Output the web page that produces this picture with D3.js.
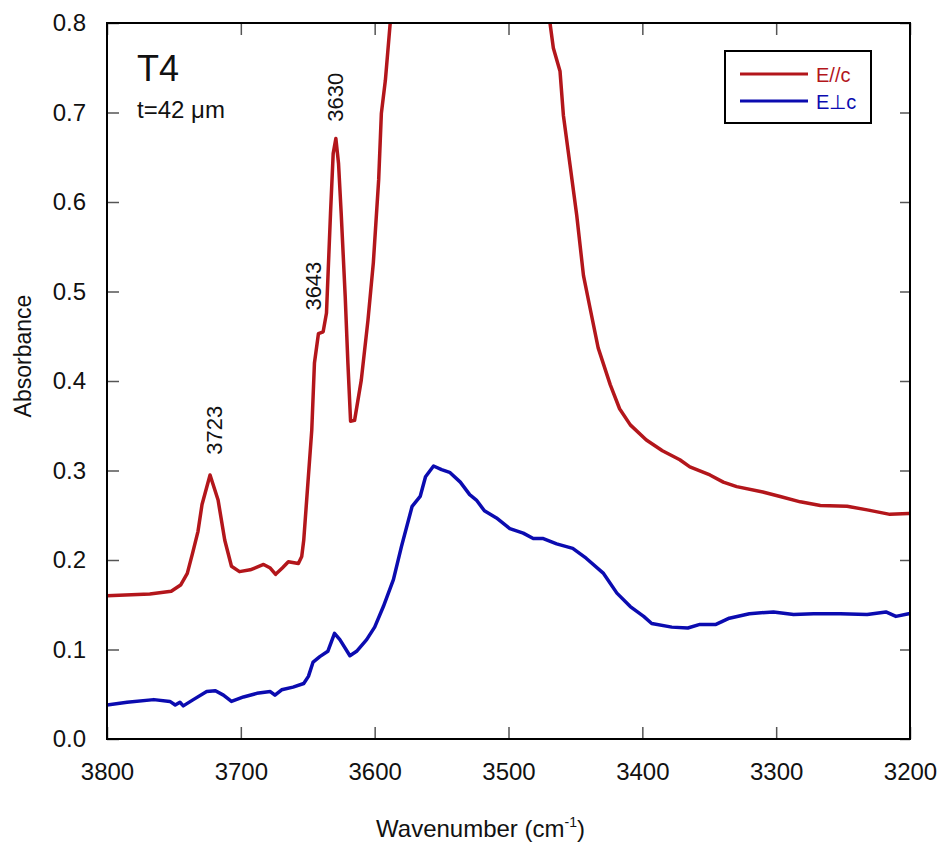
<!DOCTYPE html>
<html>
<head>
<meta charset="utf-8">
<title>T4 absorbance</title>
<script src="https://d3js.org/d3.v7.min.js"></script>
<style>
    body { margin: 0; background: #fff; }
    svg { font-family: Arial, "Liberation Sans", sans-serif; }
    .tick line { stroke: #555; stroke-width: 1.5; }
    .tick text { fill: #111; }
    .domain { display: none; }
</style>
</head>
<body>
<script>
    // red curve, E parallel c
    var redWn = [3800, 3768, 3752, 3745, 3740, 3736, 3732, 3729, 3723, 3717, 3712, 3707, 3701, 3693, 3683, 3678, 3674,
        3669, 3664.5, 3657, 3654.5, 3653, 3647, 3645, 3642, 3638.5, 3636, 3633, 3631, 3629, 3627, 3625, 3622, 3620,
        3618, 3615, 3610, 3605, 3601, 3597, 3595, 3592, 3585, 3560, 3530, 3500, 3475, 3469, 3466.5, 3461.5, 3459,
        3454, 3449, 3444, 3439, 3433, 3424, 3417, 3409, 3397, 3385, 3372, 3364.5, 3349.5, 3339.5, 3329.5, 3310,
        3297, 3282, 3267, 3247, 3232, 3215, 3201, 3200];
    var redAbs = [0.160, 0.162, 0.165, 0.172, 0.185, 0.208, 0.232, 0.262, 0.295, 0.267, 0.222, 0.193, 0.187, 0.189, 0.195,
        0.191, 0.184, 0.191, 0.198, 0.196, 0.204, 0.222, 0.345, 0.420, 0.453, 0.455, 0.476, 0.587, 0.654, 0.671, 0.643,
        0.587, 0.494, 0.420, 0.355, 0.356, 0.401, 0.468, 0.532, 0.625, 0.699, 0.736, 0.86, 1.0, 1.05, 1.0, 0.86, 0.800,
        0.772, 0.746, 0.697, 0.641, 0.585, 0.518, 0.481, 0.437, 0.396, 0.369, 0.351, 0.334, 0.322, 0.312, 0.304, 0.295,
        0.287, 0.282, 0.276, 0.271, 0.265, 0.261, 0.260, 0.256, 0.251, 0.252, 0.252];

    // blue curve, E perpendicular c
    var blueWn = [3800, 3785, 3765, 3753, 3749, 3745.5, 3743, 3735.5, 3725.5, 3719, 3713, 3707, 3698, 3688, 3678, 3674.5,
        3669.5, 3661, 3653, 3649.5, 3646, 3641, 3635, 3630, 3626, 3618.5, 3613.5, 3606, 3600, 3593.5, 3586, 3580, 3572,
        3566, 3562, 3556, 3550, 3544, 3536, 3529, 3524, 3518, 3509, 3499, 3489, 3481.5, 3474, 3464, 3452, 3442, 3429,
        3419, 3409, 3399, 3393, 3378, 3366, 3357, 3345, 3335, 3320, 3302, 3287, 3272, 3252, 3232, 3218, 3210.5, 3201, 3200];
    var blueAbs = [0.038, 0.041, 0.044, 0.042, 0.038, 0.041, 0.037, 0.044, 0.053, 0.054, 0.049, 0.042, 0.047, 0.051, 0.053,
        0.049, 0.055, 0.058, 0.062, 0.070, 0.086, 0.092, 0.098, 0.118, 0.111, 0.093, 0.098, 0.111, 0.125, 0.148, 0.178,
        0.215, 0.260, 0.271, 0.293, 0.305, 0.301, 0.298, 0.287, 0.273, 0.267, 0.255, 0.247, 0.235, 0.230, 0.224, 0.224,
        0.218, 0.213, 0.202, 0.185, 0.163, 0.148, 0.137, 0.129, 0.125, 0.124, 0.128, 0.128, 0.135, 0.140, 0.142, 0.139,
        0.140, 0.140, 0.139, 0.142, 0.137, 0.140, 0.140];

    var xTicks = [3800, 3700, 3600, 3500, 3400, 3300, 3200];
    var yTicks = [0.0, 0.1, 0.2, 0.3, 0.4, 0.5, 0.6, 0.7, 0.8];
    // peak annotations: text, and where the text sits (wavenumber, absorbance)
    var peakLabels = ["3723", "3643", "3630"];
    var peakLabelWn = [3723, 3649, 3633];
    var peakLabelAbs = [0.345, 0.506, 0.717];

    var margin = {top: 23, right: 33, bottom: 116, left: 107},
        width = 943 - margin.left - margin.right,
        height = 855 - margin.top - margin.bottom;

    var red = "#b3161b", blue = "#0b0bb0";

    var x = d3.scaleLinear().domain([3800, 3200]).range([0, width]);
    var y = d3.scaleLinear().domain([0, 0.8]).range([height, 0]);

    var svg = d3.select("body").append("svg")
        .attr("width", 943)
        .attr("height", 855);
    var g = svg.append("g")
        .attr("transform", "translate(" + margin.left + "," + margin.top + ")");

    g.append("clipPath").attr("id", "plotclip")
        .append("rect").attr("width", width).attr("height", height);

    // axes, ticks pointing inwards
    g.append("g").attr("transform", "translate(0," + height + ")")
        .call(d3.axisBottom(x).tickValues(xTicks).tickFormat(d3.format("d"))
            .tickSizeInner(-12).tickSizeOuter(0).tickPadding(24))
        .selectAll("text").style("font-size", "24px");
    g.append("g")
        .call(d3.axisLeft(y).tickValues(yTicks).tickFormat(d3.format(".1f"))
            .tickSizeInner(-12).tickSizeOuter(0).tickPadding(21))
        .selectAll("text").style("font-size", "24px");
    g.append("g")
        .call(d3.axisTop(x).tickValues(xTicks).tickFormat("").tickSizeInner(-12).tickSizeOuter(0));
    g.append("g").attr("transform", "translate(" + width + ",0)")
        .call(d3.axisRight(y).tickValues(yTicks).tickFormat("").tickSizeInner(-10).tickSizeOuter(0));

    // curves
    function toPts(wn, ab) {
        return wn.map(function(w, i) { return [w, ab[i]]; });
    }
    var line = d3.line()
        .x(function(d) { return x(d[0]); })
        .y(function(d) { return y(d[1]); });

    var curves = g.append("g").attr("clip-path", "url(#plotclip)");
    curves.append("path")
        .datum(toPts(redWn, redAbs))
        .attr("d", line)
        .attr("fill", "none").attr("stroke", red).attr("stroke-width", 3.5)
        .attr("stroke-linejoin", "round");
    curves.append("path")
        .datum(toPts(blueWn, blueAbs))
        .attr("d", line)
        .attr("fill", "none").attr("stroke", blue).attr("stroke-width", 3.5)
        .attr("stroke-linejoin", "round");

    // frame
    g.append("rect")
        .attr("width", width).attr("height", height)
        .attr("fill", "none").attr("stroke", "#000").attr("stroke-width", 2);

    // peak labels, rotated
    g.selectAll(".peak")
        .data(peakLabels)
        .enter().append("text")
        .attr("class", "peak")
        .attr("transform", function(d, i) {
            return "translate(" + (x(peakLabelWn[i]) + 12) + "," + y(peakLabelAbs[i]) + ") rotate(-90)";
        })
        .attr("text-anchor", "middle")
        .style("font-size", "22px")
        .style("fill", "#111")
        .text(function(d) { return d; });

    // sample labels
    g.append("text").attr("x", 30).attr("y", 58)
        .style("font-size", "36px").style("fill", "#111").text("T4");
    g.append("text").attr("x", 30).attr("y", 95)
        .style("font-size", "24px").style("fill", "#111").text("t=42 \u03bcm");

    // legend
    var leg = svg.append("g").attr("transform", "translate(725,51)");
    leg.append("rect").attr("width", 146).attr("height", 72)
        .attr("fill", "#fff").attr("stroke", "#000").attr("stroke-width", 2);
    var legItems = [{label: "E//c", color: red}, {label: "E\u22a5c", color: blue}];
    legItems.forEach(function(d, i) {
        var yy = 23 + i * 27;
        leg.append("line").attr("x1", 15).attr("x2", 83).attr("y1", yy).attr("y2", yy)
            .attr("stroke", d.color).attr("stroke-width", 3);
        leg.append("text").attr("x", 91).attr("y", yy + 8)
            .style("font-size", "20px").style("fill", d.color).text(d.label);
    });

    // axis titles
    var xt = svg.append("text")
        .attr("x", margin.left + width / 2 - 28).attr("y", 837)
        .attr("text-anchor", "middle")
        .style("font-size", "24px").style("fill", "#111");
    xt.append("tspan").text("Wavenumber  (cm");
    xt.append("tspan").attr("dy", -10).style("font-size", "14px").text("-1");
    xt.append("tspan").attr("dy", 10).text(")");

    svg.append("text")
        .attr("transform", "translate(31,356) rotate(-90)")
        .attr("text-anchor", "middle")
        .style("font-size", "23px").style("fill", "#111")
        .text("Absorbance");
</script>
</body>
</html>
